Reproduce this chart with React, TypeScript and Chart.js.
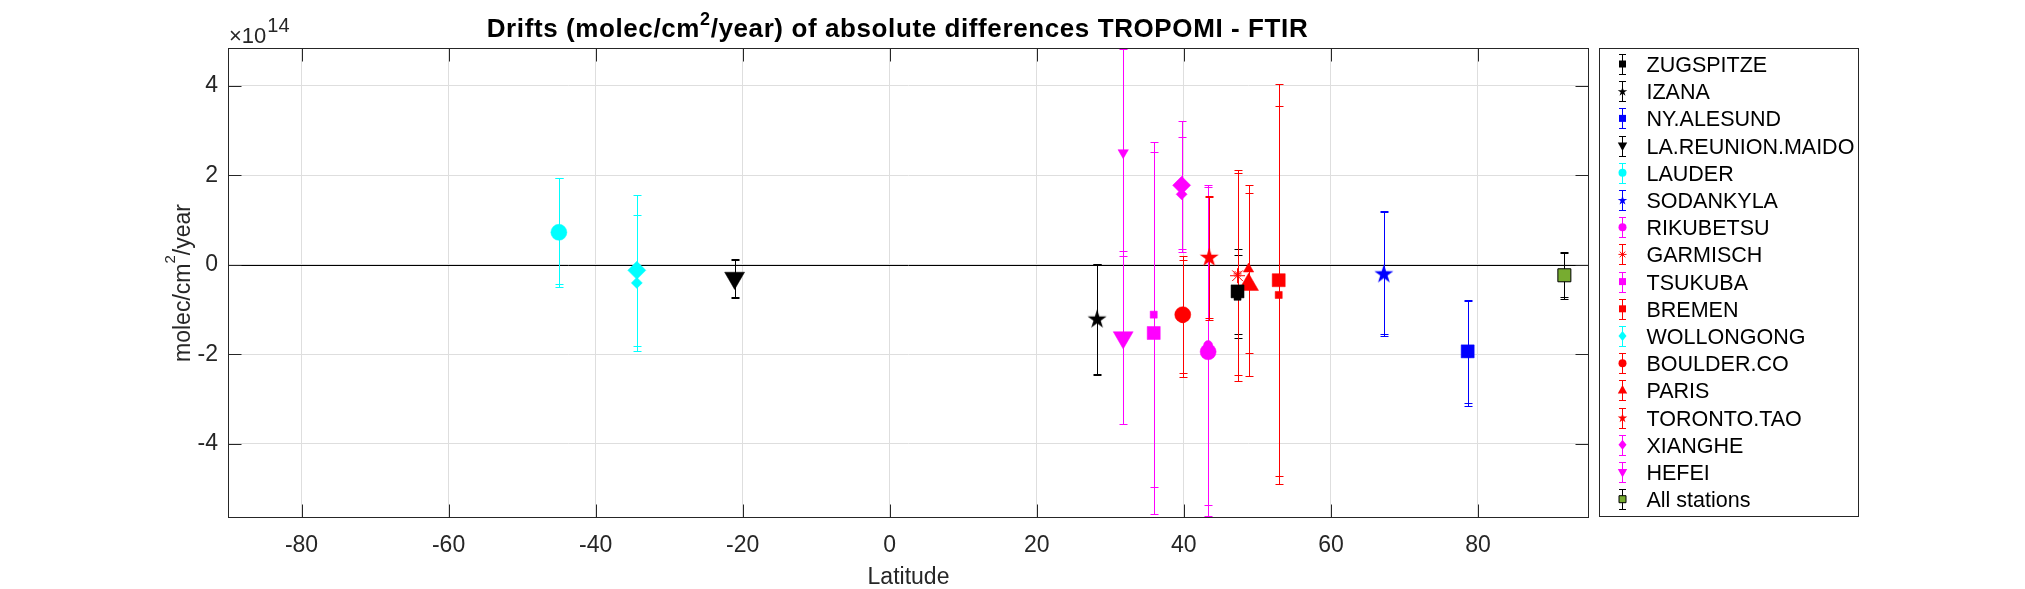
import React, { useEffect, useRef } from 'react';
import { Chart, registerables } from 'chart.js';

Chart.register(...registerables);

const FONT = '"Liberation Sans", Arial, Helvetica, sans-serif';
const INK = '#262626';

// Stations, latitude (deg) and drift estimates in units of 1e14 molec/cm²/year
const stations = ['ZUGSPITZE', 'IZANA', 'NY.ALESUND', 'LA.REUNION.MAIDO', 'LAUDER', 'SODANKYLA', 'RIKUBETSU', 'GARMISCH', 'TSUKUBA', 'BREMEN', 'WOLLONGONG', 'BOULDER.CO', 'PARIS', 'TORONTO.TAO', 'XIANGHE', 'HEFEI', 'All stations'];
const latitudes = [47.3, 28.2, 78.6, -21.1, -45.0, 67.2, 43.3, 47.3, 35.9, 52.9, -34.4, 39.85, 48.8, 43.45, 39.7, 31.75, 91.75];
// primary estimate (large marker) and its uncertainty
const driftA = [-0.59, -1.2, -1.93, -0.29, 0.73, -0.19, -1.94, -0.24, -1.52, -0.34, -0.12, -1.11, -0.44, 0.18, 1.78, -1.62, -0.23];
const errorA = [0.95, 1.23, 1.15, 0.42, 1.22, 1.39, 3.68, 2.36, 4.05, 4.38, 1.68, 1.3, 2.04, 1.37, 1.43, 1.93, 0.53];
// secondary estimate (small marker) and its uncertainty
const driftB = [-0.71, -1.22, -1.98, -0.31, 0.76, -0.18, -1.79, -0.2, -1.11, -0.67, -0.4, -1.19, -0.09, 0.15, 1.58, 2.51, -0.22];
const errorB = [0.93, 1.24, 1.18, 0.42, 1.19, 1.37, 3.58, 2.26, 3.86, 4.23, 1.52, 1.31, 1.88, 1.37, 1.28, 2.32, 0.49];
const colors = ['#000000', '#000000', '#0000ff', '#000000', '#00ffff', '#0000ff', '#ff00ff', '#ff0000', '#ff00ff', '#ff0000', '#00ffff', '#ff0000', '#ff0000', '#ff0000', '#ff00ff', '#ff00ff', '#77ac30'];
const markers = ['square', 'pentagram', 'square', 'v', 'circle', 'pentagram', 'circle', 'asterisk', 'square', 'square', 'diamond', 'circle', '^', 'pentagram', 'diamond', 'v', 'square'];
const xTicks = [-80, -60, -40, -20, 0, 20, 40, 60, 80];
const yTicks = [-4, -2, 0, 2, 4];
const xRange = [-90, 95.1];
const yRange = [-5.654, 4.849];

const TITLE_A = 'Drifts (molec/cm';
const TITLE_SUP = '2';
const TITLE_B = '/year) of absolute differences TROPOMI - FTIR';
const X_LABEL = 'Latitude';
const Y_LABEL_A = 'molec/cm';
const Y_LABEL_B = '/year';

function pentagramCanvas(R: number, fill: string): HTMLCanvasElement {
  const size = Math.ceil(2 * R + 2);
  const c = document.createElement('canvas');
  c.width = size;
  c.height = size;
  const ctx = c.getContext('2d')!;
  const cx = size / 2;
  const cy = size / 2 + R * 0.08;
  const r = R * 0.382;
  ctx.beginPath();
  for (let k = 0; k < 10; k++) {
    const rad = k % 2 === 0 ? R : r;
    const a = -Math.PI / 2 + (k * Math.PI) / 5;
    ctx.lineTo(cx + rad * Math.cos(a), cy + rad * Math.sin(a));
  }
  ctx.closePath();
  ctx.fillStyle = fill;
  ctx.fill();
  return c;
}

function pointProps(marker: string, color: string, big: boolean, edge?: string) {
  const base: any = {
    pointBackgroundColor: color,
    pointBorderColor: edge || color,
    pointBorderWidth: edge ? 1 : 0.5,
    pointRotation: 0,
  };
  switch (marker) {
    case 'square':
      return { ...base, pointStyle: 'rect', pointRadius: big ? 9.2 : 5 };
    case 'circle':
      return { ...base, pointStyle: 'circle', pointRadius: big ? 8 : 4.5 };
    case '^':
      return { ...base, pointStyle: 'triangle', pointRadius: big ? 11.5 : 6 };
    case 'v':
      return { ...base, pointStyle: 'triangle', pointRotation: 180, pointRadius: big ? 11.5 : 6 };
    case 'diamond':
      return { ...base, pointStyle: 'rectRot', pointRadius: big ? 9 : 5.5 };
    case 'asterisk':
      return { ...base, pointStyle: 'star', pointBorderWidth: 1, pointRadius: big ? 7.5 : 4 };
    case 'pentagram':
    default: {
      const R = big ? 10 : 5;
      return { ...base, pointStyle: pentagramCanvas(R, color), pointRadius: R };
    }
  }
}

function legendMarker(ctx: CanvasRenderingContext2D, m: string, x: number, y: number, color: string, edge?: string) {
  ctx.save();
  ctx.fillStyle = color;
  ctx.strokeStyle = edge || color;
  ctx.lineWidth = 1;
  ctx.beginPath();
  if (m === 'square') {
    ctx.rect(x - 3.5, y - 3.5, 7, 7);
  } else if (m === 'circle') {
    ctx.arc(x, y, 4, 0, Math.PI * 2);
  } else if (m === '^') {
    ctx.moveTo(x, y - 5.5);
    ctx.lineTo(x + 4.7, y + 3);
    ctx.lineTo(x - 4.7, y + 3);
    ctx.closePath();
  } else if (m === 'v') {
    ctx.moveTo(x, y + 5.5);
    ctx.lineTo(x + 4.7, y - 3);
    ctx.lineTo(x - 4.7, y - 3);
    ctx.closePath();
  } else if (m === 'diamond') {
    ctx.moveTo(x, y - 5);
    ctx.lineTo(x + 4, y);
    ctx.lineTo(x, y + 5);
    ctx.lineTo(x - 4, y);
    ctx.closePath();
  } else if (m === 'pentagram') {
    const R = 5;
    const r = R * 0.382;
    for (let k = 0; k < 10; k++) {
      const rad = k % 2 === 0 ? R : r;
      const a = -Math.PI / 2 + (k * Math.PI) / 5;
      ctx.lineTo(x + rad * Math.cos(a), y + 0.5 + rad * Math.sin(a));
    }
    ctx.closePath();
  } else if (m === 'asterisk') {
    const R = 4;
    for (let k = 0; k < 4; k++) {
      const a = (k * Math.PI) / 4;
      ctx.moveTo(x - R * Math.cos(a), y - R * Math.sin(a));
      ctx.lineTo(x + R * Math.cos(a), y + R * Math.sin(a));
    }
    ctx.stroke();
    ctx.restore();
    return;
  }
  ctx.fill();
  if (edge) ctx.stroke();
  ctx.restore();
}

const errorBarPlugin = {
  id: 'errorBars',
  beforeDatasetsDraw(chart: any) {
    const { ctx, chartArea: a, scales } = chart;
    const xs = scales.x;
    const ys = scales.y;
    ctx.save();
    ctx.beginPath();
    ctx.rect(a.left, a.top, a.right - a.left, a.bottom - a.top);
    ctx.clip();
    // zero reference line
    const y0 = Math.round(ys.getPixelForValue(0)) + 0.5;
    ctx.strokeStyle = '#000';
    ctx.lineWidth = 1;
    ctx.beginPath();
    ctx.moveTo(a.left, y0);
    ctx.lineTo(a.right, y0);
    ctx.stroke();
    const series: [number[], number[]][] = [[driftA, errorA], [driftB, errorB]];
    stations.forEach((_, i) => {
      const px = Math.round(xs.getPixelForValue(latitudes[i])) + 0.5;
      const col = i === stations.length - 1 ? '#000' : colors[i];
      series.forEach(([d, e]) => {
        const top = Math.round(ys.getPixelForValue(d[i] + e[i])) + 0.5;
        const bot = Math.round(ys.getPixelForValue(d[i] - e[i])) + 0.5;
        ctx.strokeStyle = col;
        ctx.lineWidth = 1;
        ctx.beginPath();
        ctx.moveTo(px, top);
        ctx.lineTo(px, bot);
        ctx.moveTo(px - 4, top);
        ctx.lineTo(px + 4, top);
        ctx.moveTo(px - 4, bot);
        ctx.lineTo(px + 4, bot);
        ctx.stroke();
      });
    });
    ctx.restore();
  },
  afterDraw(chart: any) {
    const { ctx, chartArea: a, scales } = chart;
    const xs = scales.x;
    const ys = scales.y;
    ctx.save();
    // axes box and inward tick marks
    ctx.strokeStyle = INK;
    ctx.lineWidth = 1;
    const L = a.left + 0.5;
    const R = a.right - 0.5;
    const T = a.top + 0.5;
    const B = a.bottom - 0.5;
    ctx.strokeRect(L, T, R - L, B - T);
    ctx.beginPath();
    const tl = 13;
    xTicks.forEach((v) => {
      const px = Math.round(xs.getPixelForValue(v)) + 0.5;
      ctx.moveTo(px, B);
      ctx.lineTo(px, B - tl);
      ctx.moveTo(px, T);
      ctx.lineTo(px, T + tl);
    });
    yTicks.forEach((v) => {
      const py = Math.round(ys.getPixelForValue(v)) + 0.5;
      ctx.moveTo(L, py);
      ctx.lineTo(L + tl, py);
      ctx.moveTo(R, py);
      ctx.lineTo(R - tl, py);
    });
    ctx.stroke();

    // title with superscript
    ctx.fillStyle = '#000';
    ctx.textBaseline = 'alphabetic';
    ctx.textAlign = 'left';
    (ctx as any).letterSpacing = '0.6px';
    const tFont = `bold 26px ${FONT}`;
    const sFont = `bold 18px ${FONT}`;
    ctx.font = tFont;
    const wA = ctx.measureText(TITLE_A).width;
    const wB = ctx.measureText(TITLE_B).width;
    ctx.font = sFont;
    const wS = ctx.measureText(TITLE_SUP).width;
    const total = wA + wS + wB;
    let tx = 897.5 - total / 2;
    const ty = 36.5;
    ctx.font = tFont;
    ctx.fillText(TITLE_A, tx, ty);
    tx += wA;
    ctx.font = sFont;
    ctx.fillText(TITLE_SUP, tx, ty - 12);
    tx += wS;
    ctx.font = tFont;
    ctx.fillText(TITLE_B, tx, ty);
    (ctx as any).letterSpacing = '0px';

    // exponent label
    ctx.fillStyle = INK;
    ctx.font = `22px ${FONT}`;
    ctx.fillText('\u00d710', 229, 42.5);
    const wx = ctx.measureText('\u00d710').width;
    ctx.font = `20px ${FONT}`;
    ctx.fillText('14', 229 + wx + 1, 31.5);

    // x axis label
    ctx.font = `23px ${FONT}`;
    ctx.textAlign = 'center';
    ctx.fillText(X_LABEL, (a.left + a.right) / 2, 583.5);

    // y axis label (rotated, with superscript)
    ctx.save();
    ctx.translate(190, (a.top + a.bottom) / 2);
    ctx.rotate(-Math.PI / 2);
    ctx.textAlign = 'left';
    ctx.font = `23px ${FONT}`;
    const yA = ctx.measureText(Y_LABEL_A).width;
    const yB = ctx.measureText(Y_LABEL_B).width;
    ctx.font = `15px ${FONT}`;
    const yS = ctx.measureText('2').width;
    let lx = -(yA + yS + yB) / 2;
    ctx.font = `23px ${FONT}`;
    ctx.fillText(Y_LABEL_A, lx, 0);
    lx += yA;
    ctx.font = `15px ${FONT}`;
    ctx.fillText('2', lx, -15);
    lx += yS;
    ctx.font = `23px ${FONT}`;
    ctx.fillText(Y_LABEL_B, lx, 0);
    ctx.restore();

    // legend
    const lx0 = 1599.5;
    const ly0 = 48.5;
    const lw = 259;
    const lh = 468;
    ctx.fillStyle = '#fff';
    ctx.fillRect(lx0, ly0, lw, lh);
    ctx.strokeStyle = INK;
    ctx.strokeRect(lx0, ly0, lw, lh);
    ctx.font = `21.5px ${FONT}`;
    ctx.textAlign = 'left';
    ctx.textBaseline = 'alphabetic';
    stations.forEach((name, i) => {
      const cy = 64 + i * 27.2;
      const ix = 1622.5;
      const col = i === stations.length - 1 ? '#000' : colors[i];
      const yt = Math.round(cy - 10) + 0.5;
      const yb = Math.round(cy + 10) + 0.5;
      ctx.strokeStyle = col;
      ctx.lineWidth = 1;
      ctx.beginPath();
      ctx.moveTo(ix, yt);
      ctx.lineTo(ix, yb);
      ctx.moveTo(ix - 3.5, yt);
      ctx.lineTo(ix + 3.5, yt);
      ctx.moveTo(ix - 3.5, yb);
      ctx.lineTo(ix + 3.5, yb);
      ctx.stroke();
      legendMarker(ctx, markers[i], ix, cy, colors[i], i === stations.length - 1 ? '#000' : undefined);
      ctx.fillStyle = '#000';
      ctx.fillText(name, 1646.5, cy + 8);
    });
    ctx.restore();
  },
};

export default function App() {
  const ref = useRef<HTMLCanvasElement>(null);

  useEffect(() => {
    const canvas = ref.current;
    if (!canvas) return;
    const datasets: any[] = [];
    stations.forEach((name, i) => {
      const edge = i === stations.length - 1 ? '#000' : undefined;
      datasets.push({
        label: name,
        data: [{ x: latitudes[i], y: driftA[i] }],
        showLine: false,
        ...pointProps(markers[i], colors[i], true, edge),
      });
      datasets.push({
        label: name + ' (2)',
        data: [{ x: latitudes[i], y: driftB[i] }],
        showLine: false,
        ...pointProps(markers[i], colors[i], false, edge),
      });
    });

    const chart = new Chart(canvas, {
      type: 'scatter',
      data: { datasets },
      options: {
        animation: false,
        responsive: false,
        devicePixelRatio: 1,
        events: [],
        layout: { padding: { left: 0, top: 48, right: 436, bottom: 0 } },
        plugins: {
          legend: { display: false },
          tooltip: { enabled: false },
          title: { display: false },
        },
        scales: {
          x: {
            type: 'linear',
            position: 'bottom',
            min: xRange[0],
            max: xRange[1],
            afterBuildTicks: (scale: any) => {
              scale.ticks = xTicks.map((v) => ({ value: v }));
            },
            afterFit: (scale: any) => {
              scale.height = 71;
            },
            grid: { color: '#dedede', lineWidth: 1, drawTicks: false },
            border: { display: false },
            ticks: {
              color: INK,
              font: { family: FONT, size: 23 },
              padding: 14,
              maxRotation: 0,
              autoSkip: false,
              callback: (v: any) => String(v),
            },
          },
          y: {
            type: 'linear',
            position: 'left',
            min: yRange[0],
            max: yRange[1],
            afterBuildTicks: (scale: any) => {
              scale.ticks = yTicks.map((v) => ({ value: v }));
            },
            afterFit: (scale: any) => {
              scale.width = 228;
            },
            grid: { color: '#dedede', lineWidth: 1, drawTicks: false },
            border: { display: false },
            ticks: {
              color: INK,
              font: { family: FONT, size: 23 },
              padding: 10,
              autoSkip: false,
              callback: (v: any) => String(v),
            },
          },
        },
      },
      plugins: [errorBarPlugin],
    });
    return () => chart.destroy();
  }, []);

  return (
    <div style={{ position: 'fixed', left: 0, top: 0, width: 2025, height: 589, background: '#fff' }}>
      <canvas ref={ref} width={2025} height={589} style={{ display: 'block', width: 2025, height: 589 }} />
    </div>
  );
}
